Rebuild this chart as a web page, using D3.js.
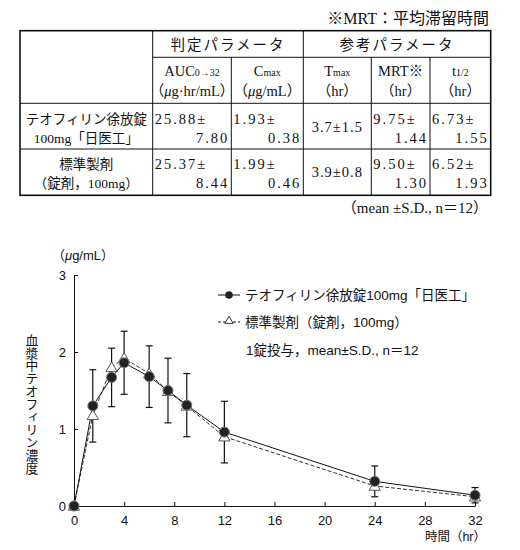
<!DOCTYPE html>
<html>
<head>
<meta charset="utf-8">
<script src="https://cdn.jsdelivr.net/npm/d3@7"></script>
<style>
  body { margin: 0; background: #fff; }
  svg text { fill: #111; }
</style>
</head>
<body>
<div id="chart"></div>
<script>
// ---- data ----
var times = [0, 1.5, 3, 4, 6, 7.5, 9, 12, 24, 32];
var testMean = [0, 1.30, 1.67, 1.86, 1.68, 1.50, 1.31, 0.96, 0.32, 0.14];
var testSD = [0, 0.47, 0.38, 0.41, 0.40, 0.42, 0.41, 0.40, 0.20, 0.10];
var refMean = [0, 1.18, 1.80, 1.92, 1.72, 1.49, 1.30, 0.90, 0.26, 0.12];
var xTicks = [0, 4, 8, 12, 16, 20, 24, 28, 32];
var yTicks = [0, 1, 2, 3];

var seriesNames = ["テオフィリン徐放錠100mg「日医工」", "標準製剤（錠剤，100mg）"];
var noteText = "1錠投与，mean±S.D., n＝12";

// table rows: [first line, second line] per cell
var rowNames = [["テオフィリン徐放錠", "100mg「日医工」"], ["標準製剤", "（錠剤，100mg）"]];
var aucVals = [["25.88±", "7.80"], ["25.37±", "8.44"]];
var cmaxVals = [["1.93±", "0.38"], ["1.99±", "0.46"]];
var tmaxVals = ["3.7±1.5", "3.9±0.8"];
var mrtVals = [["9.75±", "1.44"], ["9.50±", "1.30"]];
var thalfVals = [["6.73±", "1.55"], ["6.52±", "1.93"]];

var W = 520, H = 550;
var svg = d3.select("#chart").append("svg")
  .attr("width", W).attr("height", H);

var serif = "'Liberation Serif','Noto Sans CJK JP',serif";
var sans = "'Liberation Sans','Noto Sans CJK JP',sans-serif";

// ---- table ----
var colX = [20, 152.7, 231.3, 303.3, 371.3, 430, 490.7];
var rowY = [30.7, 57.3, 103.3, 149, 195.3];
var tbl = svg.append("g").attr("font-family", serif).attr("font-size", 14.5);

tbl.append("text").attr("x", 489).attr("y", 24).attr("text-anchor", "end")
  .attr("font-size", 16).text("※MRT：平均滞留時間");

// grid lines
tbl.append("rect").attr("x", colX[0]).attr("y", rowY[0])
  .attr("width", colX[6] - colX[0]).attr("height", rowY[4] - rowY[0])
  .attr("fill", "none").attr("stroke", "#111").attr("stroke-width", 1.6);
tbl.append("line").attr("x1", colX[1]).attr("x2", colX[6]).attr("y1", rowY[1]).attr("y2", rowY[1])
  .attr("stroke", "#111");
[2, 3].forEach(function (r) {
  tbl.append("line").attr("x1", colX[0]).attr("x2", colX[6]).attr("y1", rowY[r]).attr("y2", rowY[r])
    .attr("stroke", "#111");
});
[1, 3].forEach(function (c) {
  tbl.append("line").attr("x1", colX[c]).attr("x2", colX[c]).attr("y1", rowY[0]).attr("y2", rowY[4])
    .attr("stroke", "#111");
});
[2, 4, 5].forEach(function (c) {
  tbl.append("line").attr("x1", colX[c]).attr("x2", colX[c]).attr("y1", rowY[1]).attr("y2", rowY[4])
    .attr("stroke", "#111");
});

function mid(c) { return (colX[c] + colX[c + 1]) / 2; }

tbl.append("text").attr("x", (colX[1] + colX[3]) / 2).attr("y", 50).attr("text-anchor", "middle")
  .attr("letter-spacing", 2).text("判定パラメータ");
tbl.append("text").attr("x", (colX[3] + colX[6]) / 2).attr("y", 50).attr("text-anchor", "middle")
  .attr("letter-spacing", 2).text("参考パラメータ");

// column headers
var heads = [
  { c: 1, main: "AUC", sub: "0→32", unit: "hr/mL" },
  { c: 2, main: "C", sub: "max", unit: "/mL" },
  { c: 3, main: "T", sub: "max", unit: "hr" },
  { c: 4, main: "MRT※", sub: "", unit: "hr" },
  { c: 5, main: "t", sub: "1/2", unit: "hr" }
];
heads.forEach(function (h) {
  var t = tbl.append("text").attr("x", mid(h.c)).attr("y", 76).attr("text-anchor", "middle");
  t.append("tspan").text(h.main);
  if (h.sub) t.append("tspan").attr("font-size", 10).text(h.sub);
  var u = tbl.append("text").attr("x", mid(h.c)).attr("y", 96).attr("text-anchor", "middle");
  u.append("tspan").text("（");
  if (h.c === 1) {
    u.append("tspan").attr("font-style", "italic").text("μ");
    u.append("tspan").text("g·hr/mL");
  } else if (h.c === 2) {
    u.append("tspan").attr("font-style", "italic").text("μ");
    u.append("tspan").text("g/mL");
  } else {
    u.append("tspan").text(h.unit);
  }
  u.append("tspan").text("）");
});

// body rows
var line1 = [124, 169], line2 = [143, 188], centerLine = [132, 177];
rowNames.forEach(function (nm, i) {
  tbl.append("text").attr("x", mid(0)).attr("y", line1[i]).attr("text-anchor", "middle")
    .attr("font-size", 13.5).text(nm[0]);
  tbl.append("text").attr("x", mid(0)).attr("y", line2[i]).attr("text-anchor", "middle")
    .attr("font-size", 13.5).text(nm[1]);
});
function splitCell(vals, c) {
  vals.forEach(function (v, i) {
    tbl.append("text").attr("x", colX[c] + 2).attr("y", line1[i]).attr("letter-spacing", 2).text(v[0]);
    tbl.append("text").attr("x", colX[c + 1] - 2).attr("y", line2[i]).attr("text-anchor", "end")
      .attr("letter-spacing", 2).text(v[1]);
  });
}
splitCell(aucVals, 1);
splitCell(cmaxVals, 2);
splitCell(mrtVals, 4);
splitCell(thalfVals, 5);
tmaxVals.forEach(function (v, i) {
  tbl.append("text").attr("x", mid(3)).attr("y", centerLine[i]).attr("text-anchor", "middle")
    .attr("letter-spacing", 1).text(v);
});

tbl.append("text").attr("x", 488).attr("y", 213).attr("text-anchor", "end")
  .attr("font-size", 15).text("（mean ±S.D., n＝12）");

// ---- chart ----
var x = d3.scaleLinear().domain([0, 32]).range([74, 475]);
var y = d3.scaleLinear().domain([0, 3]).range([506, 275]);

var g = svg.append("g").attr("font-family", sans);

g.append("g").attr("transform", "translate(0," + y(0) + ")")
  .call(d3.axisBottom(x).tickValues(xTicks).tickSizeInner(-4).tickSizeOuter(0).tickPadding(10))
  .call(function (a) {
    a.select(".domain").attr("stroke", "#111");
    a.selectAll(".tick line").attr("stroke", "#111");
    a.selectAll("text").attr("font-size", 13).attr("font-family", sans).attr("fill", "#111");
  });
g.append("g").attr("transform", "translate(" + x(0) + ",0)")
  .call(d3.axisLeft(y).tickValues(yTicks).tickFormat(d3.format("d")).tickSizeInner(-4).tickSizeOuter(0).tickPadding(8))
  .call(function (a) {
    a.select(".domain").attr("stroke", "#111");
    a.selectAll(".tick line").attr("stroke", "#111");
    a.selectAll("text").attr("font-size", 13).attr("font-family", sans).attr("fill", "#111");
  });

// unit label
var ul = g.append("text").attr("x", 52).attr("y", 260).attr("font-size", 13);
ul.append("tspan").text("（");
ul.append("tspan").attr("font-style", "italic").text("μ");
ul.append("tspan").text("g/mL）");

// vertical y label
g.append("text")
  .attr("x", 31).attr("y", 404)
  .attr("text-anchor", "middle").attr("font-size", 12.8)
  .style("writing-mode", "vertical-rl").style("text-orientation", "upright")
  .text("血漿中テオフィリン濃度");

g.append("text").attr("x", 486).attr("y", 541).attr("text-anchor", "end").attr("font-size", 12.5)
  .text("時間（hr）");

var pts = times.map(function (t, i) {
  return { t: t, m: testMean[i], sd: testSD[i], r: refMean[i] };
});

var line = d3.line().x(function (d) { return x(d[0]); }).y(function (d) { return y(d[1]); });

// reference dashed line
g.append("path").datum(pts.map(function (d) { return [d.t, d.r]; }))
  .attr("d", line).attr("fill", "none").attr("stroke", "#333")
  .attr("stroke-width", 1).attr("stroke-dasharray", "4,2");
// test solid line
g.append("path").datum(pts.map(function (d) { return [d.t, d.m]; }))
  .attr("d", line).attr("fill", "none").attr("stroke", "#111").attr("stroke-width", 1);

// error bars
var eb = g.selectAll(".eb").data(pts.filter(function (d) { return d.sd > 0; })).enter()
  .append("g").attr("class", "eb").attr("stroke", "#111").attr("stroke-width", 1.2);
eb.append("line").attr("x1", function (d) { return x(d.t); }).attr("x2", function (d) { return x(d.t); })
  .attr("y1", function (d) { return y(d.m + d.sd); }).attr("y2", function (d) { return y(Math.max(0, d.m - d.sd)); });
eb.append("line").attr("x1", function (d) { return x(d.t) - 3.5; }).attr("x2", function (d) { return x(d.t) + 3.5; })
  .attr("y1", function (d) { return y(d.m + d.sd); }).attr("y2", function (d) { return y(d.m + d.sd); });
eb.append("line").attr("x1", function (d) { return x(d.t) - 3.5; }).attr("x2", function (d) { return x(d.t) + 3.5; })
  .attr("y1", function (d) { return y(Math.max(0, d.m - d.sd)); }).attr("y2", function (d) { return y(Math.max(0, d.m - d.sd)); });

var tri = d3.symbol().type(d3.symbolTriangle).size(55);
g.selectAll(".tri").data(pts).enter().append("path")
  .attr("class", "tri")
  .attr("transform", function (d) { return "translate(" + x(d.t) + "," + (y(d.r) + 1) + ")"; })
  .attr("d", tri).attr("fill", "#fff").attr("stroke", "#555").attr("stroke-width", 1);

g.selectAll(".dot").data(pts).enter().append("circle")
  .attr("class", "dot")
  .attr("cx", function (d) { return x(d.t); }).attr("cy", function (d) { return y(d.m); })
  .attr("r", 5).attr("fill", "#222").attr("stroke", "#777").attr("stroke-width", 1);

// legend
var lg = g.append("g").attr("font-size", 13.5);
lg.append("line").attr("x1", 218).attr("x2", 240).attr("y1", 295).attr("y2", 295)
  .attr("stroke", "#111");
lg.append("circle").attr("cx", 229).attr("cy", 295).attr("r", 3.8).attr("fill", "#222");
lg.append("text").attr("x", 245).attr("y", 300).text(seriesNames[0]);
lg.append("line").attr("x1", 218).attr("x2", 240).attr("y1", 322).attr("y2", 322)
  .attr("stroke", "#111").attr("stroke-dasharray", "3,2");
lg.append("path").attr("transform", "translate(229,321)")
  .attr("d", d3.symbol().type(d3.symbolTriangle).size(30))
  .attr("fill", "#fff").attr("stroke", "#333");
lg.append("text").attr("x", 245).attr("y", 327).text(seriesNames[1]);
lg.append("text").attr("x", 246).attr("y", 355).text(noteText);
</script>
</body>
</html>
